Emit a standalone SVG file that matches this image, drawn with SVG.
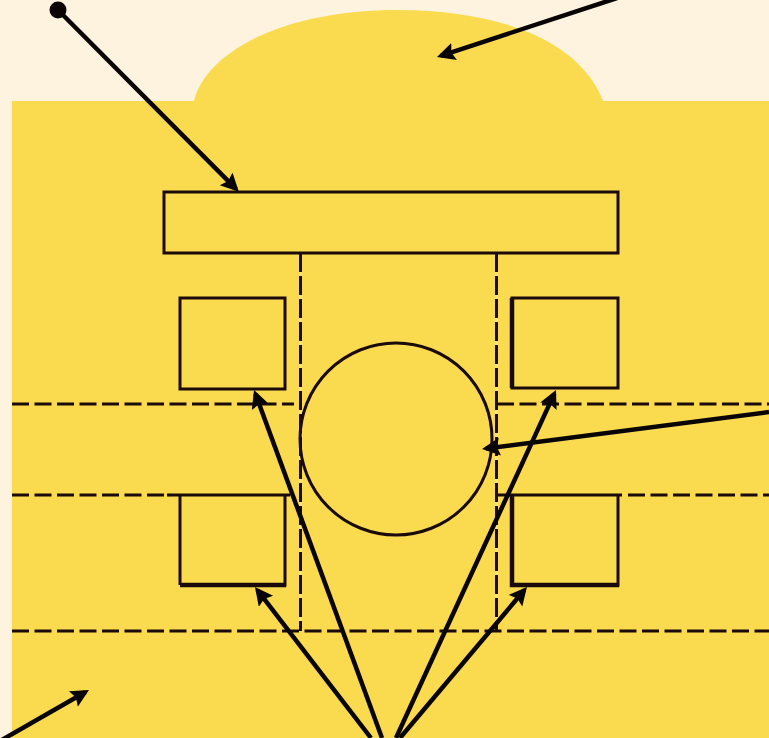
<svg xmlns="http://www.w3.org/2000/svg" width="769" height="738" viewBox="0 0 769 738">
<style>
.s{fill:none;stroke:#1a0a0a;stroke-width:3}
.n{fill:#fadb50;stroke:#1a0a0a;stroke-width:3}
.t{fill:none;stroke:#1a0a0a;stroke-width:4.500}
.d{fill:none;stroke:#1a0a0a;stroke-width:3.200;stroke-dasharray:17 5.500}
.g{fill:none;stroke:#f8e384;stroke-width:3}
.v{fill:none;stroke:#1a0a0a;stroke-width:3;stroke-dasharray:19 4}
.a{fill:none;stroke:#0a0505;stroke-width:4.500;marker-end:url(#h)}
</style>
<defs>
<marker id="h" markerUnits="userSpaceOnUse" markerWidth="20" markerHeight="20" refX="14" refY="9" orient="auto" viewBox="0 0 20 20"><path d="M0 0L18 9L0 18L3 9Z" fill="#0a0505"/></marker>
</defs>
<rect id="background" width="769" height="738" fill="#fdf3de"/>
<path id="substrate" d="M12 101H194C198 84 212 62 246 43C285 21 340 10 398 10C460 10 515 22 552 44C582 62 597 84 603 101H769V738H12Z" fill="#fadb50"/>
<g id="dashes">
<path class="d" d="M12 404H294M497 404H769M12 495H170M628 495H769M12 631H769"/>
<path class="g" d="M300.500 253V631M496.500 253V631"/>
<path class="v" d="M300.500 253V631M496.500 253V631"/>
</g>
<g id="gate"><rect class="n" x="164" y="192" width="454" height="61"/></g>
<g id="box-tl"><rect class="n" x="180" y="298" width="105" height="91"/></g>
<g id="box-tr"><rect class="n" x="512" y="298" width="106" height="90"/><path class="t" d="M512 298V388"/></g>
<g id="box-bl"><path class="n" d="M180 585V495M285 495V585H180"/><path class="s" d="M167 495H290"/><path class="t" d="M180 585H286"/></g>
<g id="box-br"><path class="n" d="M618 495V585H512"/><path class="s" d="M496 495H622"/><path class="t" d="M512 495V585H619"/></g>
<g id="circle"><circle class="s" cx="396" cy="439" r="96"/></g>
<g id="connectors">
<circle cx="58" cy="10" r="8.500" fill="#0a0505"/>
<path class="a" d="M58 10L236 188.800"/>
<path class="a" d="M617 -2L440.800 55.800"/>
<path class="a" d="M769 412L486 448.500"/>
<path class="a" d="M0 741L85.500 692"/>
<path class="a" d="M382 738L255.400 393.800"/>
<path class="a" d="M396 738L554.300 393.600"/>
<path class="a" d="M371 738L257.400 590.200"/>
<path class="a" d="M400 738L524.400 590"/>
</g>
</svg>
